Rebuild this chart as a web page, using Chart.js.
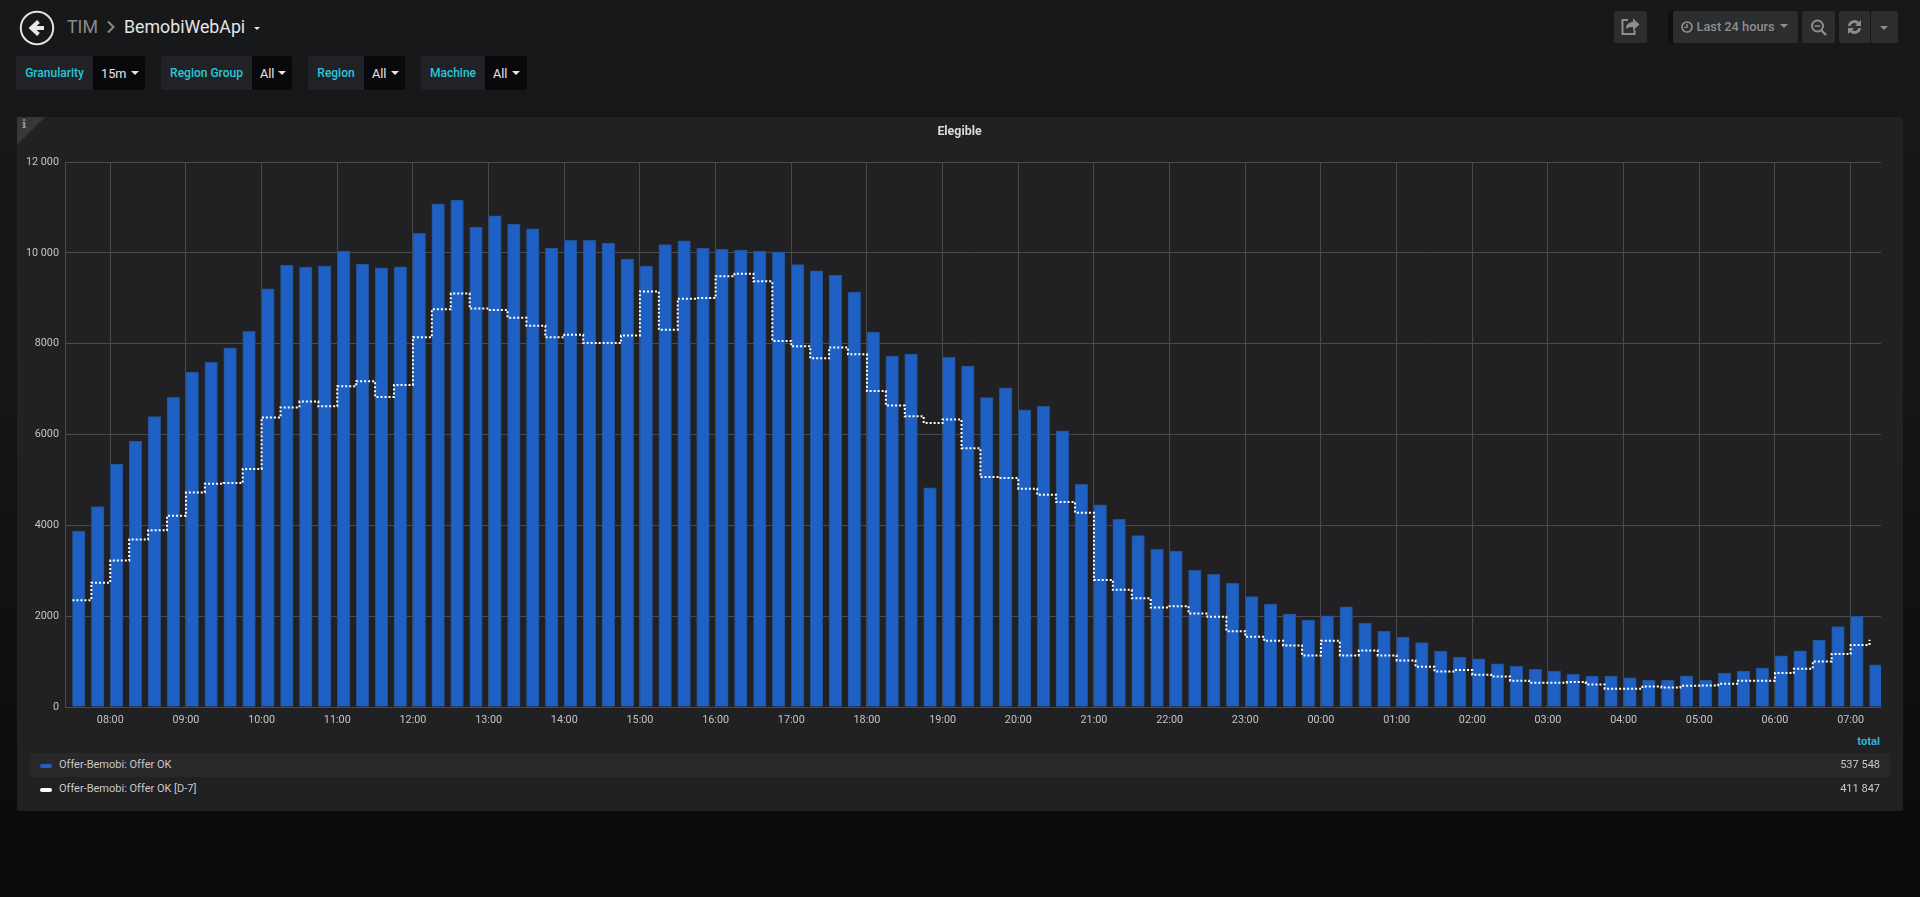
<!DOCTYPE html>
<html lang="en">
<head>
<meta charset="utf-8">
<title>BemobiWebApi</title>
<script src="https://cdn.jsdelivr.net/npm/chart.js@4"></script>
<style>
html,body{margin:0;padding:0;width:1920px;height:897px;overflow:hidden;background:linear-gradient(#17181a 0%,#141517 45%,#0b0c0e 90%);font-family:Roboto,sans-serif;color:#d8d9da}
.a{position:absolute;white-space:nowrap}
.btn{position:absolute;top:11px;height:32px;background:#2c2d2f;border-radius:2px}
.vl{position:absolute;top:56px;height:34px;background:#212226;border-radius:3px 0 0 3px;color:#2ac6d9;font-size:12px;font-weight:500;line-height:35px;text-align:center}
.vv{position:absolute;top:56px;height:34px;background:#09090b;border-radius:0 3px 3px 0;color:#e6e6e6;font-size:12.7px;line-height:35px;padding-left:8px;box-sizing:border-box}
.car{position:absolute;width:0;height:0;border-left:4px solid transparent;border-right:4px solid transparent;border-top:4px solid #e6e6e6}
#panel{position:absolute;left:17px;top:117px;width:1886px;height:694px;background:#212124;border-radius:2px}
#wrap{position:absolute;left:0;top:0;width:1886px;height:623px}
.row{position:absolute;left:13px;width:1860px;height:24px;line-height:24px;font-size:11px;color:#c8c9ca}
.sw{position:absolute;left:10px;width:12px;height:3.5px;border-radius:2px;top:11px}
</style>
</head>
<body>
<svg class="a" style="left:18px;top:10px" width="38" height="36" viewBox="0 0 38 36">
<circle cx="19" cy="18" r="16.2" fill="none" stroke="#e3e3e3" stroke-width="2"/>
<path d="M26 18H15M20.5 11.500L13.500 18L20.500 24.500" fill="none" stroke="#e8e8e8" stroke-width="4"/>
</svg>
<div class="a" style="left:67px;top:16px;font-size:17.8px;line-height:22px;color:#8a8a8a">TIM</div>
<svg class="a" style="left:106px;top:20px" width="10" height="14"><path d="M2 1.500L7.500 7L2 12.500" fill="none" stroke="#8a8a8a" stroke-width="2"/></svg>
<div class="a" style="left:124px;top:16px;font-size:17.75px;line-height:22px;color:#e4e4e4">BemobiWebApi</div>
<div class="car" style="left:254px;top:27px;border-left-width:3px;border-right-width:3px;border-top-width:3.5px"></div>

<div class="btn" style="left:1614px;width:33px">
<svg width="33" height="32"><path d="M14 9H8.500v14h12v-4" fill="none" stroke="#8e8e8e" stroke-width="2"/><path d="M12 18c0-5 3-7 7-7V7.500l6.500 6-6.500 6V16c-3 0-5 .5-7 2z" fill="#8e8e8e"/></svg>
</div>
<div class="a" style="left:1668px;top:11px;width:6px;height:32px;background:#0d0e10"></div>
<div class="btn" style="left:1673px;width:125px"></div>
<svg class="a" style="left:1680px;top:20px" width="14" height="14"><circle cx="7" cy="7" r="5" fill="none" stroke="#8e8e8e" stroke-width="1.7"/><path d="M7 3.800V7.400H4.400" fill="none" stroke="#8e8e8e" stroke-width="1.4"/></svg>
<div class="a" style="left:1696.5px;top:18px;font-size:12.8px;font-weight:500;color:#8e8e8e;line-height:17px">Last 24 hours</div>
<div class="car" style="left:1780px;top:24px;border-top-color:#8e8e8e"></div>
<div class="btn" style="left:1802px;width:33px">
<svg width="33" height="32"><circle cx="15.500" cy="15" r="5.500" fill="none" stroke="#8e8e8e" stroke-width="2"/><path d="M12.800 15H18.200" stroke="#8e8e8e" stroke-width="1.600"/><path d="M19.500 19.500L24 24" stroke="#8e8e8e" stroke-width="2.400"/></svg>
</div>
<div class="btn" style="left:1839px;width:31px">
<svg width="31" height="32"><path d="M9 15a6.500 6.500 0 0 1 11-4l2-2v6h-6l2-2a4 4 0 0 0-6.500 2zM22 17a6.500 6.500 0 0 1-11 4l-2 2v-6h6l-2 2a4 4 0 0 0 6.500-2z" fill="#8e8e8e"/></svg>
</div>
<div class="btn" style="left:1871px;width:27px"></div>
<div class="car" style="left:1880px;top:26px;border-top-color:#8e8e8e"></div>

<div class="vl" style="left:16px;width:77px">Granularity</div><div class="vv" style="left:93px;width:52px">15m</div><div class="car" style="left:131px;top:71px"></div>
<div class="vl" style="left:161px;width:91px">Region Group</div><div class="vv" style="left:252px;width:40px">All</div><div class="car" style="left:278px;top:71px"></div>
<div class="vl" style="left:308px;width:56px">Region</div><div class="vv" style="left:364px;width:41px">All</div><div class="car" style="left:391px;top:71px"></div>
<div class="vl" style="left:421px;width:64px">Machine</div><div class="vv" style="left:485px;width:42px">All</div><div class="car" style="left:512px;top:71px"></div>

<div id="panel">
<svg class="a" style="left:0;top:0" width="28" height="28"><path d="M0 0H28L0 28z" fill="#37373a"/></svg>
<div class="a" style="left:5px;top:1px;font:bold 11px 'DejaVu Serif',serif;color:#9a9a9a">i</div>
<div id="wrap"><canvas id="c"></canvas></div>
<div class="a" style="left:0;width:1885px;top:6px;text-align:center;font-size:12.4px;font-weight:700;color:#d8d9da;line-height:16px">Elegible</div>
<div class="a" style="right:23px;top:618px;font-size:11.2px;font-weight:700;color:#33b5e5;line-height:14px">total</div>
<div class="row" style="top:636px;background:#28282a"><span class="sw" style="background:#1f60c4"></span><span class="a" style="left:29px">Offer-Bemobi: Offer OK</span><span class="a" style="right:10px;color:#c8c9ca">537 548</span></div>
<div class="row" style="top:660px"><span class="sw" style="background:#ffffff"></span><span class="a" style="left:29px">Offer-Bemobi: Offer OK [D-7]</span><span class="a" style="right:10px;color:#c8c9ca">411 847</span></div>
</div>

<script>
const offerOk = [3874,4411,5347,5852,6396,6820,7373,7589,7909,8269,9206,9726,9686,9710,10038,9750,9670,9694,10430,11079,11159,10566,10815,10631,
10527,10102,10278,10278,10214,9862,9710,10182,10262,10102,10078,10062,10038,10022,9742,9606,9502,9134,8253,7725,7773,4827,7700,
7509,6813,7026,6542,6623,6081,4901,4454,4132,3773,3473,3429,3011,2923,2725,2432,2264,2044,1912,2007,2205,1846,1670,
1538,1421,1231,1099,1062,952,894,828,791,718,681,681,645,593,593,689,593,747,791,857,1128,1238,1473,1773,2000,930];
const offerOkD7 = [2353,2738,3226,3690,3890,4211,4723,4915,4931,5243,6372,6596,6724,6620,7060,7172,6828,7092,8141,8757,9102,8773,8741,
8573,8397,8141,8197,8013,8013,8181,9150,8309,8990,9006,9486,9542,9374,8061,7941,7677,7917,7765,6956,6636,6404,6252,
6330,5700,5062,5040,4806,4674,4513,4278,2799,2579,2396,2190,2220,2059,1985,1670,1546,1458,1355,1136,1458,1136,1245,1136,
1026,886,784,813,711,674,579,535,535,549,498,403,403,454,432,469,476,513,579,579,747,842,1004,1165,1363,1480];
const xTickLabels = ['08:00','09:00','10:00','11:00','12:00','13:00','14:00','15:00','16:00','17:00','18:00','19:00','20:00','21:00','22:00','23:00','00:00','01:00','02:00','03:00','04:00','05:00','06:00','07:00'];
const yTickLabels = ['0','2000','4000','6000','8000','10 000','12 000'];
const seriesNames = ['Offer-Bemobi: Offer OK','Offer-Bemobi: Offer OK [D-7]'];
const stepMinutes = 15;
const firstHourMinutes = 30;
const barMinutes = 10;
const axisMin = -5.9, axisMax = 1434.1;

const canvas = document.getElementById('c');
Chart.defaults.font.family = 'Roboto, sans-serif';
Chart.defaults.font.size = 10.8;
Chart.defaults.color = '#c4c4c6';
const gridColor = '#4a4a4c';
const pxPerMin = 1816 / (axisMax - axisMin);

new Chart(canvas, {
  type: 'bar',
  data: {
    datasets: [
      {
        type: 'line', label: seriesNames[1], order: 0,
        data: offerOkD7.map((v, i) => ({x: i * stepMinutes, y: v})),
        borderColor: '#ffffff', borderWidth: 2, borderDash: [2, 2],
        stepped: true, pointRadius: 0, fill: false, tension: 0
      },
      {
        type: 'bar', label: seriesNames[0], order: 1,
        data: offerOk.map((v, i) => ({x: i * stepMinutes + barMinutes / 2, y: v})),
        backgroundColor: '#1f60c4', borderColor: '#24508f', borderWidth: 1,
        barThickness: barMinutes * pxPerMin
      }
    ]
  },
  options: {
    responsive: true, maintainAspectRatio: false, animation: false, devicePixelRatio: 1,
    layout: {padding: {left: 0, top: 45, right: 22, bottom: 0}},
    plugins: {legend: {display: false}, tooltip: {enabled: false}, title: {display: false}},
    scales: {
      x: {
        type: 'linear', min: axisMin, max: axisMax, offset: false,
        grid: {color: gridColor, lineWidth: 1, drawTicks: false, offset: false},
        border: {color: gridColor},
        afterBuildTicks: s => { s.ticks = xTickLabels.map((_, i) => ({value: firstHourMinutes + i * 60})); },
        afterFit: s => { s.height = 33; },
        ticks: {autoSkip: false, maxRotation: 0, minRotation: 0, padding: 7, callback: (v, i) => xTickLabels[i]}
      },
      y: {
        type: 'linear', min: 0, max: 12000,
        grid: {color: gridColor, lineWidth: 1, drawTicks: false},
        border: {color: gridColor},
        afterFit: s => { s.width = 48; },
        ticks: {stepSize: 2000, padding: 6, callback: (v, i) => yTickLabels[i]}
      }
    }
  }
});
</script>
</body>
</html>
